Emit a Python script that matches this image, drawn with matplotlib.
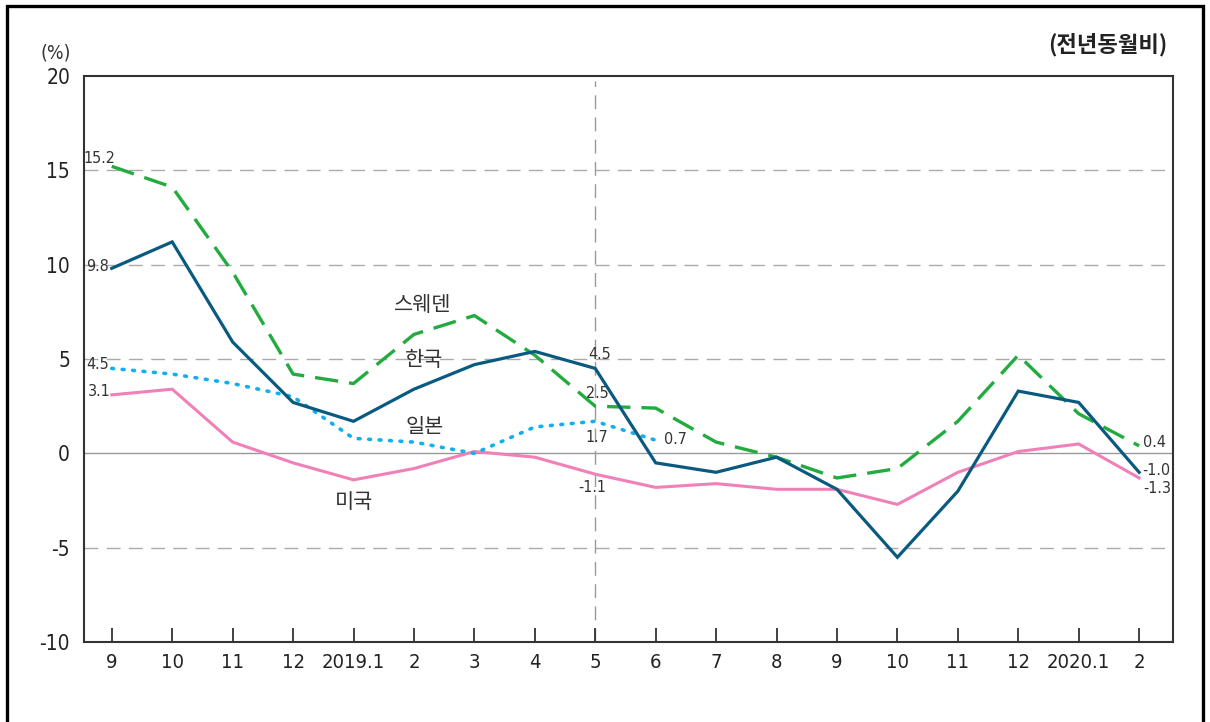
import matplotlib
matplotlib.use("Agg")
import matplotlib.pyplot as plt
from matplotlib.patches import Rectangle

# ---- data ----
months = ['9', '10', '11', '12', '2019.1', '2', '3', '4', '5', '6', '7', '8',
          '9', '10', '11', '12', '2020.1', '2']
korea = [9.8, 11.2, 5.9, 2.7, 1.7, 3.4, 4.7, 5.4, 4.5, -0.5, -1.0, -0.2,
         -1.9, -5.5, -2.0, 3.3, 2.7, -1.0]
sweden = [15.2, 14.1, 9.6, 4.2, 3.7, 6.3, 7.3, 5.2, 2.5, 2.4, 0.6, -0.2,
          -1.3, -0.8, 1.7, 5.2, 2.1, 0.4]
japan = [4.5, 4.2, 3.7, 3.0, 0.8, 0.6, 0.0, 1.4, 1.7, 0.7]
usa = [3.1, 3.4, 0.6, -0.5, -1.4, -0.8, 0.1, -0.2, -1.1, -1.8, -1.6, -1.9,
       -1.9, -2.7, -1.0, 0.1, 0.5, -1.3]
yticks = [-10, -5, 0, 5, 10, 15, 20]

NUM = ['DejaVu Sans']
KOR = ['Noto Sans CJK KR', 'DejaVu Sans']
ST = 'condensed'

fig = plt.figure(figsize=(12.1, 7.22), dpi=100)
ax = fig.add_axes([0.0694, 0.1104, 0.9, 0.7848])

x = list(range(len(months)))
ax.set_xlim(-0.46, 17.56)
ax.set_ylim(-10, 20)

# grid
for v in [-5, 5, 10, 15]:
    ax.axhline(v, color='#aaaaaa', lw=1.0, linestyle=(0, (10, 6)), zorder=1)
ax.axhline(0, color='#999999', lw=1.0, zorder=1)
ax.axvline(8, ymin=0, ymax=0.99, color='#999999', lw=1.0, linestyle=(0, (10, 6)), zorder=1)

# series
ax.plot(x, usa, color='#f080b8', lw=2.2, zorder=3, solid_joinstyle='miter')
ax.plot(x[:len(japan)], japan, color='#10b0ee', lw=2.6, linestyle=(0, (0.5, 2.4)),
        dash_capstyle='round', zorder=3)
ax.plot(x, sweden, color='#22ab3e', lw=2.4, linestyle=(0, (7, 3.3)), zorder=4)
ax.plot(x, korea, color='#0a5a80', lw=2.3, zorder=5, solid_joinstyle='miter')

# axes styling
for s in ax.spines.values():
    s.set_color('#333333')
    s.set_linewidth(1.5)
ax.set_xticks(x)
ax.set_xticklabels(months, fontfamily=NUM, fontstretch=ST, fontsize=14.5, color='#222222')
ax.set_yticks(yticks)
ax.set_yticklabels([str(v) for v in yticks], fontfamily=NUM, fontstretch=ST,
                   fontsize=15, color='#222222')
ax.tick_params(axis='x', direction='in', length=10, width=1.3, color='#333333', pad=8)
ax.tick_params(axis='y', length=0, pad=10)
ax.tick_params(top=False, right=False)

# series name labels
kw = dict(fontfamily=KOR, fontsize=15, color='#333333', ha='center', va='center')
ax.text(5.15, 7.85, '스웨덴', **kw)
ax.text(5.17, 4.94, '한국', **kw)
ax.text(5.18, 1.41, '일본', **kw)
ax.text(4.0, -2.56, '미국', **kw)

# value labels
vk = dict(fontfamily=NUM, fontstretch=ST, fontsize=11.5, color='#333333',
          ha='center', va='center')
ax.text(-0.2, 15.64, f'{sweden[0]:.1f}', **vk)
ax.text(-0.23, 9.92, f'{korea[0]:.1f}', **vk)
ax.text(-0.23, 4.7, f'{japan[0]:.1f}', **vk)
ax.text(-0.21, 3.26, f'{usa[0]:.1f}', **vk)
ax.text(8.08, 5.26, f'{korea[8]:.1f}', **vk)
ax.text(8.03, 3.16, f'{sweden[8]:.1f}', **vk)
ax.text(8.03, 0.86, f'{japan[8]:.1f}', **vk)
ax.text(9.32, 0.74, f'{japan[9]:.1f}', **vk)
ax.text(7.95, -1.78, f'{usa[8]:.1f}', **vk)
ax.text(17.25, 0.6, f'{sweden[17]:.1f}', **vk)
ax.text(17.28, -0.88, f'{korea[17]:.1f}', **vk)
ax.text(17.3, -1.84, f'{usa[17]:.1f}', **vk)

# header texts
fig.text(0.0459, 0.927, '(%)', fontfamily=NUM, fontstretch=ST, fontsize=14,
         color='#333333', ha='center', va='center')
fig.text(0.9645, 0.9377, '(전년동월비)', fontfamily=KOR, fontsize=16, fontweight='bold',
         color='#222222', ha='right', va='center')

# outer frame
fig.patches.append(Rectangle((6.5 / 1210, -0.1), (1202.5 - 6.5) / 1210, 1.1 - 5.5 / 722,
                             transform=fig.transFigure, fill=False, edgecolor='black',
                             linewidth=2.4, zorder=10))

fig.savefig('out.png', dpi=100)
